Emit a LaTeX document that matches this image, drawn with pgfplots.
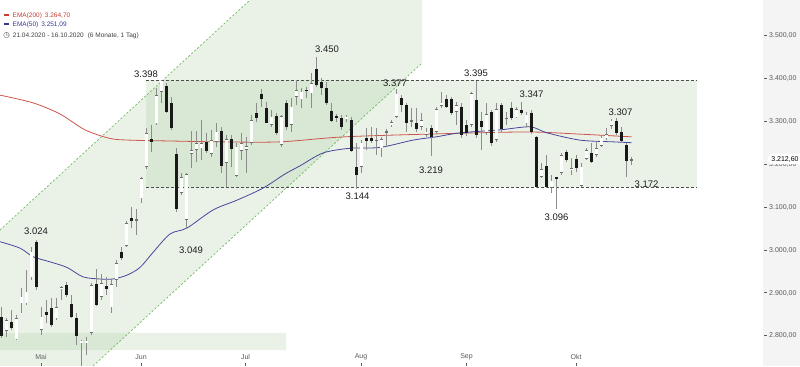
\documentclass[border=0pt]{standalone}
\usepackage{pgfplots}
\pgfplotsset{compat=1.18}
\usepackage{pgfplotstable}
\usepackage{fontspec}
\setmainfont{Liberation Sans}
\newfontfamily\symfont{DejaVu Sans}
\usetikzlibrary{shapes.symbols}

\definecolor{emared}{RGB}{205,85,75}
\definecolor{emablue}{RGB}{70,70,155}
\definecolor{legred}{RGB}{200,60,50}
\definecolor{legblue}{RGB}{55,55,150}
\definecolor{shade}{rgb}{0.45,0.66,0.40}
\definecolor{chan}{RGB}{110,185,95}
\definecolor{wick}{RGB}{140,140,140}
\definecolor{wbord}{RGB}{110,110,110}
\definecolor{bbody}{RGB}{25,25,25}
\definecolor{labgray}{RGB}{90,90,90}
\definecolor{panel}{RGB}{244,244,244}
\definecolor{anno}{RGB}{30,30,30}

\newcommand\tdash{\textcolor{labgray}{\rule[2.2pt]{3pt}{0.5pt}}\hspace{2pt}}

\pgfplotstableread{
i o h l c
0 2845 2868 2795 2800
1 2812 2841 2798 2837
2 2833 2861 2814 2818
3 2792 2849 2791 2841
4 2876 2911 2853 2892
5 2876 2954 2872 2903
6 2937 3008 2931 2997
7 3020 3024 2907 2914
8 2814 2868 2802 2845
9 2855 2884 2830 2849
10 2865 2888 2822 2826
11 2841 2888 2837 2868
12 2909 2917 2884 2914
13 2919 2927 2892 2896
14 2875 2896 2841 2844
15 2843 2853 2779 2800
16 2785 2791 2720 2789
17 2785 2798 2756 2789
18 2808 2923 2802 2919
19 2921 2956 2870 2872
20 2892 2945 2884 2923
21 2917 2938 2896 2909
22 2867 2931 2853 2921
23 2931 2977 2915 2970
24 2997 3008 2977 2981
25 3010 3069 3008 3063
26 3075 3100 3051 3069
27 3071 3096 3036 3071
28 3121 3172 3110 3168
29 3194 3285 3190 3273
30 3259 3292 3230 3253
31 3296 3378 3292 3362
32 3369 3398 3343 3396
33 3383 3391 3320 3322
34 3344 3358 3281 3285
35 3224 3238 3090 3096
36 3134 3181 3130 3170
37 3071 3181 3049 3177
38 3225 3278 3191 3234
39 3234 3278 3207 3250
40 3238 3304 3211 3250
41 3253 3273 3228 3232
42 3225 3281 3217 3257
43 3253 3296 3242 3277
44 3278 3288 3180 3197
45 3204 3269 3147 3259
46 3259 3269 3195 3236
47 3173 3250 3172 3242
48 3232 3273 3211 3250
49 3234 3265 3180 3243
50 3251 3316 3246 3304
51 3320 3344 3300 3308
52 3365 3376 3334 3352
53 3331 3347 3296 3298
54 3292 3327 3288 3312
55 3313 3320 3269 3274
56 3246 3316 3242 3313
57 3343 3351 3281 3288
58 3292 3355 3277 3335
59 3358 3397 3339 3374
60 3352 3378 3331 3370
61 3374 3382 3355 3373
62 3366 3413 3331 3390
63 3422 3450 3382 3386
64 3393 3401 3362 3378
65 3378 3393 3339 3343
66 3326 3343 3300 3302
67 3313 3318 3300 3308
68 3309 3316 3281 3288
69 3306 3316 3300 3312
70 3305 3312 3230 3232
71 3195 3250 3144 3176
72 3195 3257 3180 3251
73 3261 3285 3234 3256
74 3261 3288 3250 3256
75 3257 3285 3222 3257
76 3238 3265 3218 3259
77 3276 3282 3242 3276
78 3292 3304 3288 3299
79 3312 3377 3308 3365
80 3355 3362 3323 3339
81 3339 3343 3277 3296
82 3302 3331 3288 3302
83 3298 3331 3277 3282
84 3288 3320 3281 3304
85 3269 3285 3265 3277
86 3285 3292 3219 3265
87 3277 3335 3274 3329
88 3337 3370 3331 3344
89 3352 3362 3331 3335
90 3352 3358 3316 3321
91 3323 3347 3292 3339
92 3335 3343 3261 3269
93 3292 3304 3267 3273
94 3292 3370 3288 3366
95 3351 3395 3261 3269
96 3302 3323 3234 3288
97 3274 3343 3269 3318
98 3323 3327 3243 3250
99 3257 3344 3253 3329
100 3339 3343 3277 3283
101 3308 3323 3292 3308
102 3333 3347 3304 3308
103 3310 3335 3308 3329
104 3327 3347 3316 3320
105 3296 3323 3288 3316
106 3320 3327 3271 3277
107 3265 3267 3146 3148
108 3172 3203 3168 3189
109 3197 3222 3145 3148
110 3145 3176 3133 3162
111 3170 3172 3096 3166
112 3180 3226 3176 3222
113 3230 3234 3207 3211
114 3187 3215 3176 3191
115 3212 3222 3183 3191
116 3150 3203 3148 3195
117 3214 3238 3211 3234
118 3226 3250 3203 3207
119 3222 3253 3218 3238
120 3243 3269 3240 3263
121 3261 3285 3257 3271
122 3291 3307 3284 3302
123 3302 3308 3269 3273
124 3277 3288 3251 3256
125 3246 3250 3172 3208
126 3210 3218 3199 3212.6
}\ohlc

\begin{document}
\begin{tikzpicture}
\begin{axis}[
  set layers=standard,
  width=800pt, height=366pt, scale only axis,
  xmin=-0.3, xmax=159.7, ymin=2730, ymax=3584,
  axis line style={draw=none},
  clip mode=individual,
  xtick={7.9,27.9,48.8,71.9,93,114.9},
  xticklabels={Mai,Jun,Jul,Aug,Sep,Okt},
  xtick pos=left,
  tick align=inside,
  major tick length=3pt,
  xtick style={draw=labgray, line width=0.5pt},
  xticklabel style={anchor=south, yshift=3pt},
  ytick={2800,2900,3000,3100,3200,3300,3400,3500},
  yticklabels={{\tdash 2.800,00},{\tdash 2.900,00},{\tdash 3.000,00},{\tdash 3.100,00},{\tdash 3.200,00},{\tdash 3.300,00},{\tdash 3.400,00},{\tdash 3.500,00}},
  ytick pos=right, yticklabel pos=right,
  ytick style={draw=none},
  yticklabel style={anchor=east},
  ticklabel style={font=\fontsize{7}{8}\selectfont, text=labgray},
  after end axis/.code={
    \node[signal, signal to=west, signal pointer angle=120, fill=white, draw=none,
      inner sep=1.2pt, minimum height=10pt, anchor=east,
      font=\fontsize{7}{8}\selectfont, text=black] at (axis cs:159.7,3212.6) {3.212,60};
  },
]
% right price panel
\addplot[fill=panel, draw=none, on layer=axis background] coordinates {(152.3,2700) (170,2700) (170,3600) (152.3,3600) (152.3,2700)};
% shaded channel
\addplot[fill=shade, fill opacity=0.15, draw=none] coordinates
  {(-1,3039.8) (49.7,3584) (84.1,3584) (84.1,3437) (18.3,2730) (-1,2730) (-1,3039.8)};
% sideways range
\addplot[fill=shade, fill opacity=0.15, draw=none] coordinates
  {(28.9,3147) (139.1,3147) (139.1,3397) (28.9,3397) (28.9,3147)};
% bottom-left strip
\addplot[fill=shade, fill opacity=0.15, draw=none] coordinates
  {(-1,2767) (56.9,2767) (56.9,2807) (-1,2807) (-1,2767)};
% dashed lines
\addplot[chan, line width=0.7pt, dash pattern=on 2pt off 2pt] coordinates {(-0.3,3047.3) (49.7,3584)};
\addplot[chan, line width=0.7pt, dash pattern=on 2pt off 2pt] coordinates {(18.3,2730) (84.1,3437)};
\addplot[black!70, line width=0.6pt, dash pattern=on 3pt off 2pt] coordinates {(28.9,3397) (139.1,3397)};
\addplot[black!70, line width=0.6pt, dash pattern=on 3pt off 2pt] coordinates {(28.9,3147) (139.1,3147)};
% EMA 200
\addplot[emared, line width=0.8pt, smooth, tension=0.5] coordinates {
  (-0.3,3362) (6.3,3344) (11.7,3318) (16.7,3281) (21.7,3261) (25.7,3257) (33.7,3255)
  (43.7,3253) (55.7,3253) (69.1,3265) (91.7,3273) (105.7,3276) (115.7,3271) (126,3264.7)};
% EMA 50
\addplot[emablue, line width=0.8pt, smooth, tension=0.5] coordinates {
  (-0.3,3020) (3.7,3005) (6.3,2985) (9.7,2973) (13.1,2960) (16.3,2938) (19.7,2933)
  (22.3,2933) (25.1,2942) (27.7,2960) (30.3,2995) (33.7,3038) (37.1,3052) (42.3,3094)
  (47.1,3117) (52.3,3145) (56.7,3178) (59.7,3197) (64.3,3227) (69.7,3238) (75.7,3240)
  (82.3,3257) (87.1,3265) (91.7,3274) (99.7,3281) (105.7,3288) (109.1,3274)
  (115.7,3257) (122.3,3253) (126,3251)};
% wicks
\addplot[draw=none, mark=none, error bars/.cd, y dir=both, y explicit, error mark=none,
  error bar style={draw=wick, line width=0.9pt, solid}]
  table[x=i, y expr={(\thisrow{h}+\thisrow{l})/2}, y error expr={(\thisrow{h}-\thisrow{l})/2}] {\ohlc};
% white bodies: outline
\addplot[draw=none, mark=none, error bars/.cd, y dir=both, y explicit, error mark=none,
  error bar style={draw=wbord, line width=3.9pt, solid}]
  table[x=i, y expr={(\thisrow{o}+\thisrow{c})/2},
    y error expr={(\thisrow{c}>=\thisrow{o}) ? max(abs(\thisrow{c}-\thisrow{o})/2,1.4) : 0}] {\ohlc};
% white bodies: inside
\addplot[draw=none, mark=none, error bars/.cd, y dir=both, y explicit, error mark=none,
  error bar style={draw=white, line width=2.6pt, solid}]
  table[x=i, y expr={(\thisrow{o}+\thisrow{c})/2},
    y error expr={(\thisrow{c}>=\thisrow{o}) ? max(abs(\thisrow{c}-\thisrow{o})/2-1.5,0) : 0}] {\ohlc};
% black bodies
\addplot[draw=none, mark=none, error bars/.cd, y dir=both, y explicit, error mark=none,
  error bar style={draw=bbody, line width=3.9pt, solid}]
  table[x=i, y expr={(\thisrow{o}+\thisrow{c})/2},
    y error expr={(\thisrow{c}<\thisrow{o}) ? max(abs(\thisrow{c}-\thisrow{o})/2,1.2) : 0}] {\ohlc};
% annotations
\tikzset{annot/.style={font=\fontsize{9.5}{11}\selectfont, text=anno, inner sep=0pt}}
\node[annot] at (axis cs:6.9,3045) {3.024};
\node[annot] at (axis cs:28.9,3411) {3.398};
\node[annot] at (axis cs:37.9,2999) {3.049};
\node[annot] at (axis cs:65.1,3469) {3.450};
\node[annot] at (axis cs:78.7,3390) {3.377};
\node[annot] at (axis cs:71.2,3127) {3.144};
\node[annot] at (axis cs:85.9,3186) {3.219};
\node[annot] at (axis cs:94.9,3414) {3.395};
\node[annot] at (axis cs:106,3364) {3.347};
\node[annot] at (axis cs:123.8,3321) {3.307};
\node[annot] at (axis cs:111,3078) {3.096};
\node[annot] at (axis cs:129,3154) {3.172};
% legend text
\node[anchor=west, inner sep=0pt, font=\fontsize{6.5}{8}\selectfont, text=legred]
  at (rel axis cs:0.005,0.9563) {\rule[1.3pt]{5pt}{2pt}\hspace{3.5pt}EMA(200)\hspace{3pt}3.264,70};
\node[anchor=west, inner sep=0pt, font=\fontsize{6.5}{8}\selectfont, text=legblue]
  at (rel axis cs:0.005,0.9317) {\rule[1.3pt]{5pt}{2pt}\hspace{3.5pt}EMA(50)\hspace{3pt}3.251,09};
\node[anchor=west, inner sep=0pt, font=\fontsize{6.5}{8}\selectfont, text=black!75]
  at (rel axis cs:0.004,0.903) {{\symfont\fontsize{7.5}{8}\selectfont ◷}\hspace{3pt}21.04.2020 - 16.10.2020\hspace{4pt}(6 Monate, 1 Tag)};
\end{axis}
\end{tikzpicture}
\end{document}
